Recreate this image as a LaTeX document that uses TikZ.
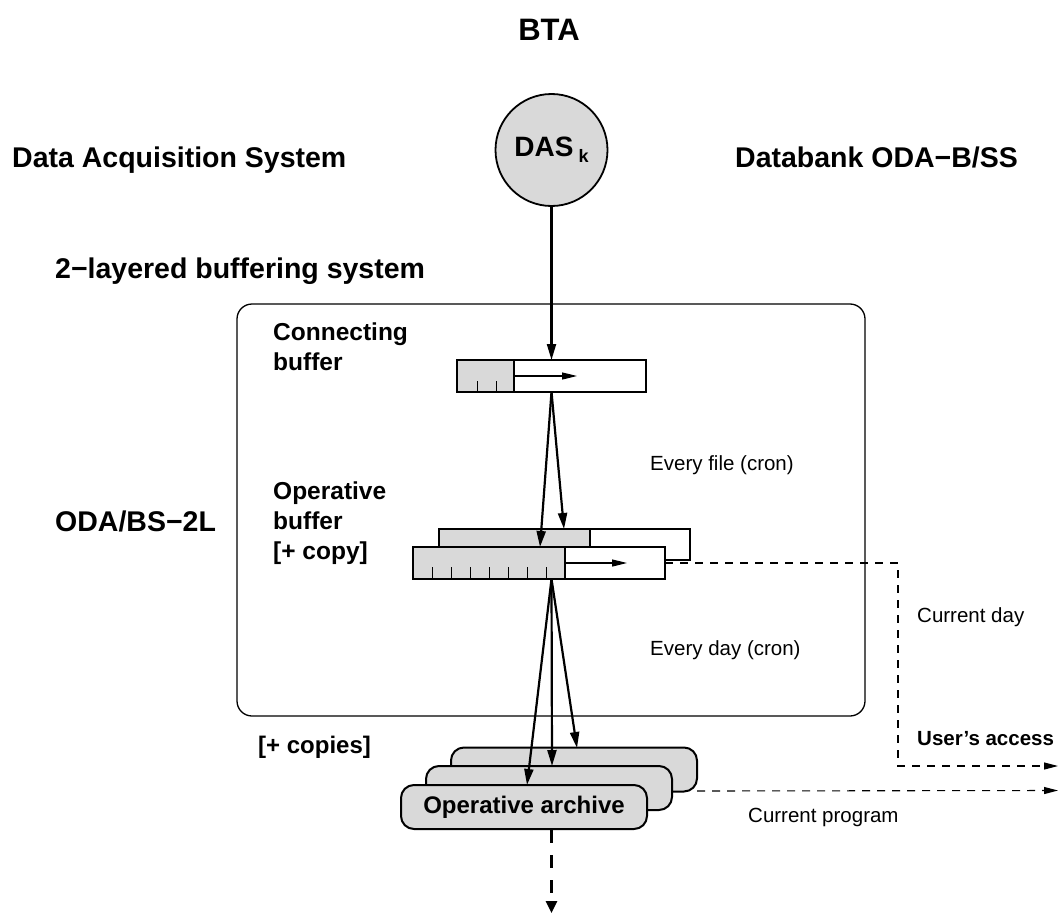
\documentclass[tikz,border=0pt]{standalone}
\usepackage{fontspec}
\setmainfont{Liberation Sans}
\usetikzlibrary{arrows.meta,calc}
\definecolor{boxgray}{RGB}{217,217,217}
\begin{document}
\begin{tikzpicture}[x=1pt,y=-1pt,
  lbl/.style={inner sep=0, anchor=base west, font=\fontsize{20.5}{24}\selectfont},
  blbl/.style={inner sep=0, anchor=base west, font=\bfseries\fontsize{28.5}{34}\selectfont},
  mlbl/.style={inner sep=0, anchor=north west, align=left, font=\bfseries\fontsize{24.5}{30}\selectfont},
  buf/.style={draw, line width=2pt, inner sep=0, outer sep=0, fill=white},
  card/.style={draw, line width=2pt, fill=boxgray, rounded corners=13pt, inner sep=0, outer sep=0,
               minimum width=246pt, minimum height=44pt},
  flow/.style={line width=2.2pt, -{Triangle[length=16pt,width=9pt]}},
  inarrow/.style={line width=1.2pt, -{Triangle[length=15pt,width=7pt]}},
  access/.style={line width=1.1pt, dash pattern=on 8pt off 7pt, -{Triangle[length=14pt,width=7pt]}},
  export/.style={line width=2.6pt, dash pattern=on 13pt off 12pt, -{Triangle[length=12pt,width=11pt]}},
  tick/.style={line width=1pt}
]
\useasboundingbox (0,0) rectangle (1059,915);

% titles
\node[inner sep=0, font=\bfseries\fontsize{31}{36}\selectfont] (bta) at (549,30) {BTA};
\node[blbl] (das-lbl) at (12,167) {Data Acquisition System};
\node[blbl] (db-lbl) at (735,167) {Databank ODA−B/SS};
\node[blbl] (lay-lbl) at (55,278) {2−layered buffering system};
\node[blbl] (oda-lbl) at (55,531) {ODA/BS−2L};

% big rounded box
\node[draw, line width=1.3pt, rounded corners=15pt, minimum width=628pt, minimum height=412pt,
      inner sep=0, outer sep=0] (sys) at (551,510) {};

% DAS circle
\node[circle, draw, fill=boxgray, line width=1.8pt, minimum size=112pt, inner sep=0] (das) at (551.5,150)
  {\bfseries\fontsize{28}{30}\selectfont DAS\hspace{5pt}{\fontsize{18}{18}\selectfont\raisebox{-6pt}{k}}};

% connecting buffer
\node[mlbl] (cb-lbl) at (273,323) {Connecting\\buffer};
\node[buf, minimum width=189pt, minimum height=32pt] (cb) at (551.5,376) {};
\filldraw[fill=boxgray, line width=2pt] (cb.north west) rectangle ++(57,32);
\foreach \tx in {477,496} \draw[tick] (\tx,392) -- ++(0,-11);
\coordinate (cbin1) at (514,376);
\coordinate (cbin2) at (577,376);
\draw[inarrow] (cbin1) -- (cbin2);

\draw[flow] (das.south) -- (cb.north);

% operative buffer
\node[mlbl] (ob-lbl) at (273,482) {Operative\\buffer\\{[}+ copy{]}};
\node[buf, minimum width=251pt, minimum height=31pt] (ob2) at (564.5,544.5) {};
\filldraw[fill=boxgray, line width=2pt] (ob2.north west) rectangle ++(151,31);
\node[buf, minimum width=252pt, minimum height=32pt] (ob1) at (539,563) {};
\filldraw[fill=boxgray, line width=2pt] (ob1.north west) rectangle ++(152,32);
\foreach \tx in {432,451,470,489,508,527,546} \draw[tick] (\tx,579) -- ++(0,-12);
\coordinate (obin1) at (565,563);
\coordinate (obin2) at (627,563);
\draw[inarrow] (obin1) -- (obin2);

\coordinate (ob1top) at (540,547);
\coordinate (ob2top) at (564,529);
\draw[flow] (cb.south) -- (ob1top);
\draw[flow] (cb.south) -- (ob2top);

\node[lbl] (ef-lbl) at (650,470) {Every file (cron)};
\node[lbl] (ed-lbl) at (650,655) {Every day (cron)};

% archive cards
\node[card] (ar3) at (574,769.5) {};
\node[card] (ar2) at (549,788) {};
\node[card, font=\bfseries\fontsize{24}{28}\selectfont] (ar1) at (524,807) {Operative archive};
\node[inner sep=0, anchor=base west, font=\bfseries\fontsize{24}{28}\selectfont] (cp-lbl) at (258,753) {[+ copies]};

\coordinate (obout) at (551.5,579);
\coordinate (ar1top) at (527,785);
\coordinate (ar2top) at (552,766);
\coordinate (ar3top) at (577,748);
\draw[flow] (obout) -- (ar1top);
\draw[flow] (obout) -- (ar2top);
\draw[flow] (obout) -- (ar3top);

% export arrow
\coordinate (arbot) at (551.5,830);
\coordinate (arend) at (551.5,913);
\draw[export] (arbot) -- (arend);

% user's access lines
\coordinate (turn) at (898,563);
\coordinate (acc1) at (1058,766);
\coordinate (acc2) at (1058,790.5);
\draw[access] (ob1.east) -- (turn) |- (acc1);
\draw[access] (ar3.south east) ++(0,-0.5) -- (acc2);

\node[lbl] (cd-lbl) at (917,622) {Current day};
\node[inner sep=0, anchor=base west, font=\bfseries\fontsize{20.5}{24}\selectfont] (ua-lbl) at (917,745) {User’s access};
\node[lbl] (cpg-lbl) at (748,822) {Current program};
\end{tikzpicture}
\end{document}
